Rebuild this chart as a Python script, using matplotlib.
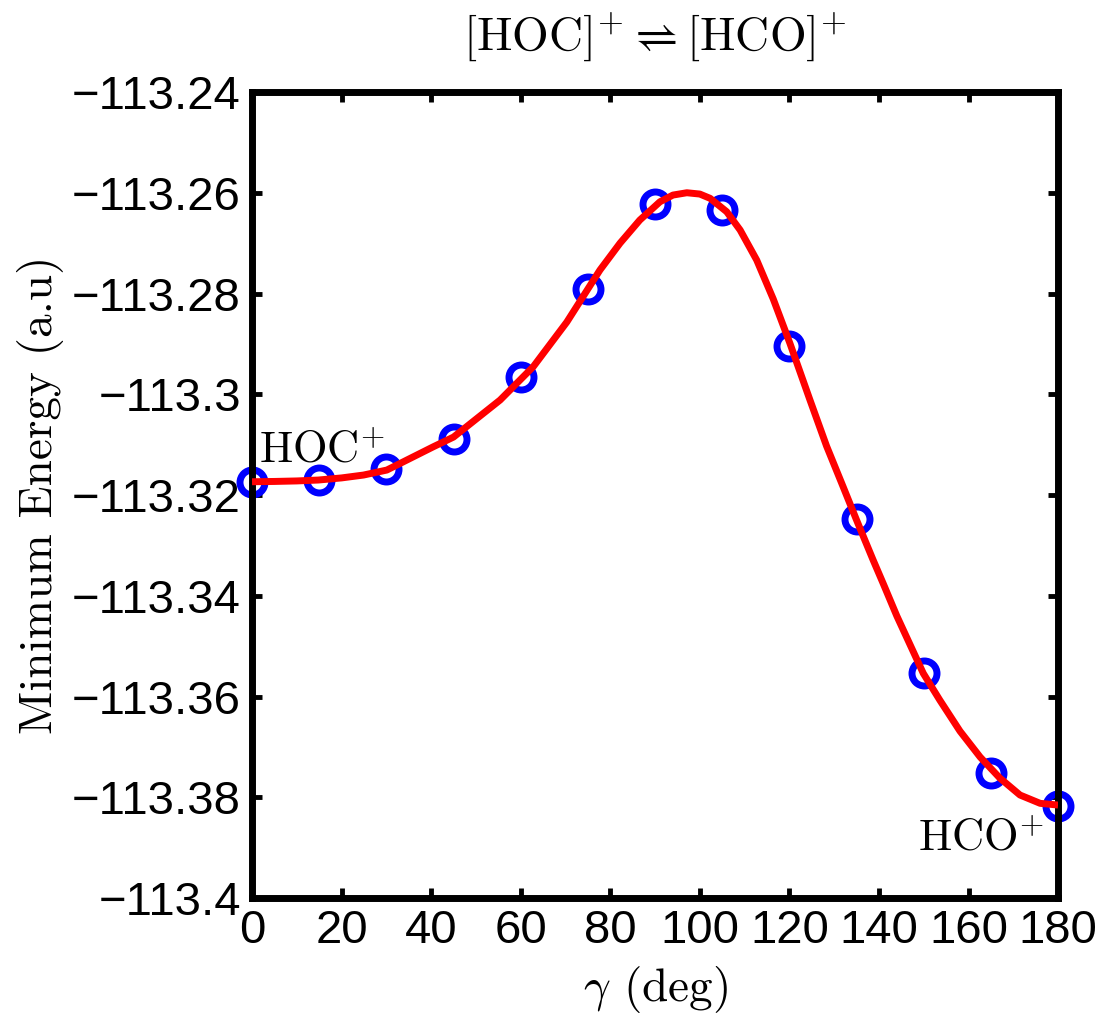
import matplotlib
matplotlib.use("Agg")
import matplotlib.pyplot as plt

# Data points (blue circles)
gamma_pts = [0, 15, 30, 45, 60, 75, 90, 105, 120, 135, 150, 165, 180]
energy_pts = [-113.3174, -113.3170, -113.3148, -113.3089, -113.2966, -113.2791,
              -113.2622, -113.2634, -113.2904, -113.3248, -113.3553, -113.3752, -113.3817]

# Fitted curve (red)
gamma_fit = [0, 5, 10, 14.8, 20, 24.9, 30.1, 33.1, 40.5, 45, 47.9, 55.4, 62.8,
             70.3, 77.7, 82.2, 86.6, 91.1, 94, 97.1, 100, 102.3, 106, 109, 112.7, 116.4,
             120.1, 124.6, 128.3, 132, 135, 138.7, 141, 144, 149.9, 153.6, 158.1, 162.6,
             167, 171.5, 176, 180]
energy_fit = [-113.31736, -113.3173, -113.3172, -113.31702, -113.3166, -113.31603,
              -113.31504, -113.31371, -113.31041, -113.30849, -113.30644,
              -113.30114, -113.29453, -113.28566, -113.27533, -113.26998, -113.26541,
              -113.26178, -113.26045, -113.25999, -113.26025, -113.26110, -113.26376,
              -113.26739, -113.27335, -113.28109, -113.28983, -113.30114, -113.31027,
              -113.31835, -113.32496, -113.33290, -113.33767, -113.34402, -113.35539,
              -113.36072, -113.36687, -113.37201, -113.37618, -113.37955, -113.38120,
              -113.38154]

xticks = [0, 20, 40, 60, 80, 100, 120, 140, 160, 180]
yticks = [-113.4, -113.38, -113.36, -113.34, -113.32, -113.3, -113.28, -113.26, -113.24]
ytick_labels = ["\u2212113.4", "\u2212113.38", "\u2212113.36", "\u2212113.34", "\u2212113.32",
                "\u2212113.3", "\u2212113.28", "\u2212113.26", "\u2212113.24"]

plt.rcParams['mathtext.fontset'] = 'cm'
plt.rcParams['axes.formatter.use_mathtext'] = True
plt.rcParams['font.family'] = ['Liberation Sans', 'DejaVu Sans']

fig = plt.figure(figsize=(11.01, 10.16), dpi=100)
ax = fig.add_axes([0.2289, 0.1161, 0.7321, 0.7933])

ax.plot(gamma_pts, energy_pts, 'o', ms=18, mfc='none', mec='#0000ff', mew=5, zorder=2,
        clip_on=False)
ax.plot(gamma_fit, energy_fit, '-', color='#ff0000', lw=5, zorder=3, solid_capstyle='butt',
        solid_joinstyle='round')

ax.set_xlim(0, 180)
ax.set_ylim(-113.4, -113.24)
ax.set_xticks(xticks)
ax.set_xticklabels([str(v) for v in xticks])
ax.set_yticks(yticks)
ax.set_yticklabels(ytick_labels)

for s in ax.spines.values():
    s.set_linewidth(5)
ax.tick_params(direction='in', length=7, width=3.5, labelsize=34, top=True, right=True,
               pad=8)

ax.set_xlabel(r'$\gamma$ (deg)', fontsize=34, labelpad=8, family='cmr10')
ax.set_ylabel('Minimum Energy (a.u)', fontsize=34, labelpad=6, family='cmr10')
ax.set_title(r'[HOC]$^{+}\rightleftharpoons$[HCO]$^{+}$', fontsize=34, pad=30,
             family='cmr10')

ax.text(1.5, -113.3135, r'HOC$^{+}$', fontsize=32, ha='left', va='baseline', family='cmr10')
ax.text(177, -113.3905, r'HCO$^{+}$', fontsize=32, ha='right', va='baseline', family='cmr10')

fig.savefig('out.png', dpi=100)
